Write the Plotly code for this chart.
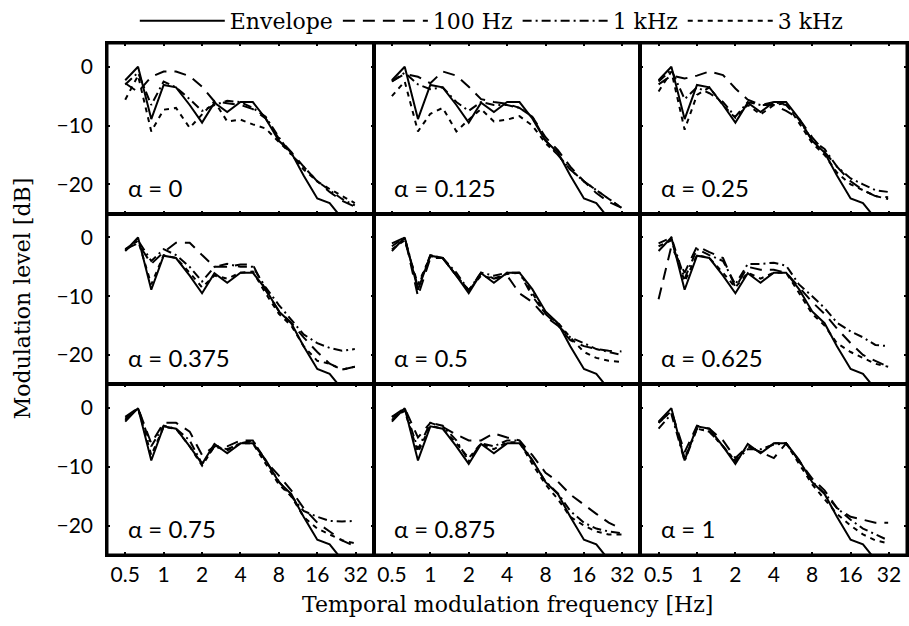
import plotly.graph_objects as go
from plotly.subplots import make_subplots

freqs = [0.5, 0.63, 0.8, 1, 1.25, 1.6, 2, 2.5, 3.15, 4, 5, 6.3, 8, 10, 12.5, 16, 20, 25, 31.5]
tick_vals = [0.5, 1, 2, 4, 8, 16, 32]
tick_text = ["0.5", "1", "2", "4", "8", "16", "32"]
y_tick_vals = [0, -10, -20]
y_tick_text = ["0", "\u221210", "\u221220"]
alpha_labels = ["\u03b1 = 0", "\u03b1 = 0.125", "\u03b1 = 0.25",
                "\u03b1 = 0.375", "\u03b1 = 0.5", "\u03b1 = 0.625",
                "\u03b1 = 0.75", "\u03b1 = 0.875", "\u03b1 = 1"]

envelope = [-2.3, 0.0, -8.9, -3.1, -3.5, -6.5, -9.5, -6.1, -7.7, -6.0, -6.0, -8.8,
            -12.6, -14.6, -18.5, -22.4, -23.2, -26.0, -28.5]

hz100 = [
    [-2.8, -4.3, -1.7, -0.8, -0.8, -1.6, -3.4, -5.9, -6.2, -6.5, -7.2, -8.8, -12.2, -14.5, -17.0, -19.5, -21.3, -22.8, -23.8],
    [-2.5, -1.2, -1.7, -2.8, -0.8, -1.5, -3.4, -5.5, -6.0, -6.3, -7.0, -8.5, -12.0, -14.2, -17.0, -19.5, -21.5, -23.0, -24.0],
    [-3.0, -1.5, -2.0, -1.5, -0.8, -1.4, -3.7, -5.6, -6.5, -6.5, -7.5, -8.8, -12.0, -14.5, -17.0, -19.5, -21.0, -22.0, -22.2],
    [-2.0, -1.0, -4.5, -2.5, -0.9, -0.9, -3.0, -5.0, -5.0, -4.6, -4.6, -9.0, -12.5, -14.5, -17.0, -19.5, -21.5, -22.5, -22.0],
    [-1.0, 0.0, -10.0, -3.5, -3.5, -6.5, -9.0, -6.0, -7.0, -6.5, -9.5, -11.0, -13.5, -15.0, -17.5, -18.5, -19.0, -19.3, -19.4],
    [-10.5, -1.5, -6.0, -1.5, -2.5, -3.5, -8.5, -5.0, -5.5, -5.5, -6.0, -8.5, -11.0, -13.0, -15.5, -18.0, -20.0, -21.0, -22.0],
    [-1.5, 0.0, -6.0, -2.5, -2.5, -4.0, -8.0, -6.5, -6.5, -5.5, -5.5, -9.0, -11.5, -14.0, -17.0, -19.5, -21.0, -22.5, -23.5],
    [-1.5, 0.0, -5.0, -2.5, -3.2, -4.5, -5.5, -5.5, -4.3, -5.0, -5.5, -8.0, -11.0, -12.5, -14.7, -16.5, -18.0, -19.5, -20.5],
    [-2.5, -0.5, -7.5, -3.0, -3.5, -5.5, -8.5, -6.5, -7.5, -8.5, -6.0, -9.0, -12.0, -14.0, -17.0, -18.5, -19.0, -19.5, -19.5],
]

khz1 = [
    [-3.0, -1.0, -6.5, -2.5, -3.5, -5.5, -7.5, -6.5, -5.8, -6.0, -7.0, -8.5, -12.0, -15.0, -17.0, -19.5, -21.0, -22.5, -23.6],
    [-2.5, -1.0, -3.0, -3.8, -3.5, -6.0, -7.5, -6.0, -6.5, -6.5, -7.0, -8.5, -12.5, -15.0, -17.5, -19.5, -21.0, -22.5, -24.0],
    [-2.5, -0.5, -5.5, -3.5, -4.5, -6.0, -8.5, -6.0, -6.5, -6.0, -6.5, -9.0, -12.5, -14.0, -17.0, -19.0, -20.0, -21.0, -21.3],
    [-2.2, -0.5, -4.0, -2.0, -3.0, -5.0, -7.5, -5.0, -4.5, -5.0, -5.0, -8.5, -11.5, -14.0, -16.5, -18.0, -18.8, -19.3, -19.0],
    [-1.5, 0.0, -8.5, -3.0, -3.5, -6.0, -9.0, -6.0, -6.5, -6.0, -6.0, -10.0, -13.0, -15.0, -17.0, -18.0, -19.0, -19.5, -20.0],
    [-1.0, 0.0, -7.0, -2.0, -3.0, -4.0, -8.0, -4.5, -4.5, -4.3, -4.8, -8.0, -10.0, -12.0, -14.5, -16.0, -17.0, -18.3, -18.5],
    [-2.0, 0.0, -6.5, -3.0, -3.5, -5.5, -9.5, -6.5, -7.0, -6.0, -5.5, -9.0, -12.5, -15.0, -17.5, -18.5, -19.2, -19.3, -19.2],
    [-2.0, 0.0, -7.0, -2.5, -3.0, -5.5, -9.0, -6.0, -6.5, -5.5, -5.5, -9.0, -12.5, -14.5, -17.5, -19.5, -20.5, -21.0, -21.3],
    [-3.5, -1.0, -9.0, -3.5, -4.0, -6.5, -9.0, -7.0, -7.0, -6.2, -6.0, -9.0, -12.5, -14.5, -17.0, -19.0, -20.5, -21.5, -22.5],
]

khz3 = [
    [-5.6, -1.5, -11.0, -7.3, -7.0, -10.4, -8.1, -5.9, -9.3, -9.0, -9.8, -10.5, -12.8, -14.8, -17.5, -19.5, -20.8, -22.0, -23.2],
    [-5.0, -2.5, -11.0, -8.0, -7.0, -11.0, -9.0, -7.2, -9.3, -9.0, -8.4, -10.0, -13.0, -15.0, -17.5, -19.5, -21.0, -22.5, -24.0],
    [-4.2, -0.8, -10.7, -4.8, -3.5, -6.5, -8.7, -6.5, -8.1, -6.5, -6.2, -9.5, -13.0, -15.0, -18.0, -20.0, -21.0, -22.0, -22.5],
    [-2.0, -0.5, -8.0, -3.0, -3.5, -6.0, -8.5, -6.5, -7.0, -6.0, -5.8, -9.5, -13.0, -15.0, -18.5, -21.0, -21.5, -22.5, -22.0],
    [-2.0, -0.5, -8.0, -3.2, -3.5, -6.5, -9.0, -6.5, -7.0, -6.2, -6.0, -9.5, -13.0, -14.5, -17.0, -19.5, -20.5, -21.0, -21.2],
    [-1.5, -0.5, -7.5, -3.0, -3.5, -6.0, -8.5, -6.0, -7.0, -6.0, -6.0, -9.5, -13.0, -15.0, -18.0, -19.5, -20.5, -21.5, -22.0],
    [-1.8, 0.0, -8.0, -3.2, -3.5, -6.5, -9.8, -6.5, -7.2, -6.0, -6.0, -9.5, -13.0, -15.0, -18.5, -20.5, -21.5, -22.5, -23.0],
    [-1.5, -0.5, -7.5, -3.0, -3.5, -6.0, -8.5, -6.0, -7.0, -5.8, -5.8, -9.5, -13.0, -15.5, -18.5, -20.0, -21.0, -21.5, -21.5],
    [-2.5, -0.5, -8.5, -3.5, -4.0, -6.5, -9.0, -6.5, -7.5, -6.0, -6.0, -9.5, -13.0, -15.5, -18.0, -20.0, -21.5, -22.5, -23.0],
]

series_names = ["Envelope", "100 Hz", "1 kHz", "3 kHz"]
series_dash = ["solid", "12px,8px", "9px,4px,2px,4px", "5px,5px"]

SERIF = "DejaVu Serif"
SANS = "Lato"

fig = make_subplots(rows=3, cols=3, horizontal_spacing=0, vertical_spacing=0)

for i in range(9):
    r, c = i // 3 + 1, i % 3 + 1
    data = [envelope, hz100[i], khz1[i], khz3[i]]
    for k in range(4):
        fig.add_trace(go.Scatter(
            x=freqs, y=data[k], mode="lines", name=series_names[k],
            line=dict(color="black", width=2, dash=series_dash[k]),
            showlegend=(i == 0), legendgroup=series_names[k],
        ), row=r, col=c)
    fig.add_annotation(
        text=alpha_labels[i], showarrow=False,
        xref="x domain" if i == 0 else f"x{i+1} domain",
        yref="y domain" if i == 0 else f"y{i+1} domain",
        x=0.07, y=0.155, xanchor="left", yanchor="middle",
        font=dict(family=SANS, size=24, color="black"))

for i in range(9):
    r, c = i // 3 + 1, i % 3 + 1
    fig.update_xaxes(
        type="log", range=[-0.444, 1.646],
        tickvals=tick_vals, ticktext=tick_text,
        showticklabels=(r == 3),
        ticks="inside", ticklen=3, tickwidth=2, tickcolor="black",
        showline=True, linecolor="black", linewidth=1.5, mirror="ticks",
        showgrid=False, zeroline=False,
        tickfont=dict(family=SANS, size=21, color="black"),
        row=r, col=c)
    fig.update_yaxes(
        range=[-25, 4.05],
        tickvals=y_tick_vals, ticktext=y_tick_text,
        showticklabels=(c == 1),
        ticks="inside", ticklen=3, tickwidth=2, tickcolor="black",
        showline=True, linecolor="black", linewidth=1.5, mirror="ticks",
        showgrid=False, zeroline=False,
        tickfont=dict(family=SANS, size=21, color="black"),
        ticklabelstandoff=8,
        row=r, col=c)

# outer frame of the panel block
fig.add_shape(type="rect", xref="paper", yref="paper", x0=0, x1=1, y0=0, y1=1,
              line=dict(color="black", width=3), fillcolor="rgba(0,0,0,0)", layer="above")

fig.add_annotation(text="Modulation level [dB]", xref="paper", yref="paper",
                   x=-0.106, y=0.5, textangle=-90, showarrow=False,
                   xanchor="center", yanchor="middle",
                   font=dict(family=SERIF, size=22, color="black"))
fig.add_annotation(text="Temporal modulation frequency [Hz]", xref="paper", yref="paper",
                   x=0.5, y=-0.097, showarrow=False,
                   xanchor="center", yanchor="middle",
                   font=dict(family=SERIF, size=22, color="black"))

fig.update_layout(
    width=909, height=626,
    margin=dict(l=107, r=0, t=39, b=71),
    paper_bgcolor="white", plot_bgcolor="white",
    showlegend=True,
    legend=dict(orientation="h", x=0.481, xanchor="center", y=1.043, yanchor="middle",
                font=dict(family=SERIF, size=22, color="black"),
                itemwidth=85, bgcolor="rgba(0,0,0,0)", traceorder="normal"),
)

fig.write_html("out.html")
